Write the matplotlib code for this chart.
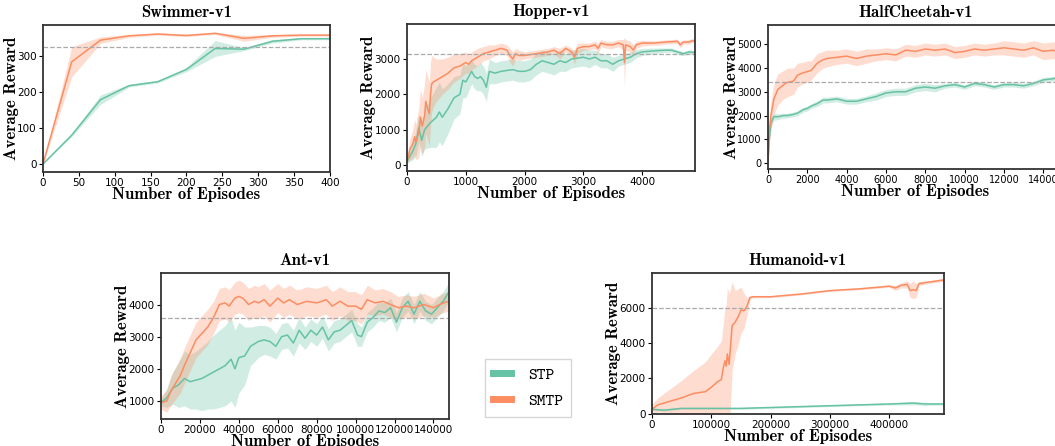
import matplotlib.pyplot as plt
import numpy as np

GREEN = "#66c2a5"
ORANGE = "#fc8d62"

# ---- Swimmer-v1
sw_x = [0, 40, 80, 120, 160, 200, 240, 280, 320, 360, 400]
sw_smtp = [0, 283, 343, 355, 360, 356, 362, 348, 355, 357, 357]
sw_smtp_sd = [0, 42, 9, 4, 3, 3, 3, 8, 4, 3, 3]
sw_stp = [0, 80, 178, 217, 228, 262, 320, 318, 340, 347, 347]
sw_stp_sd = [0, 4, 13, 4, 3, 6, 22, 4, 5, 3, 3]

# ---- Hopper-v1
ho_smtp_x = [0, 50, 100, 130, 150, 200, 230, 260, 300, 320, 350, 380, 400, 420, 450, 500,
             600, 700, 800, 900, 1000, 1050, 1100, 1200, 1300, 1400, 1500, 1600, 1700,
             1750, 1800, 1850, 1900, 2000, 2200, 2400, 2500, 2600, 2700, 2800, 2850, 2900,
             3000, 3100, 3200, 3250, 3300, 3400, 3500, 3600, 3680, 3700, 3720, 3800, 3850,
             3900, 4000, 4200, 4400, 4600, 4650, 4700, 4800, 4850, 4900]
ho_smtp = [100, 450, 600, 800, 650, 900, 1350, 1100, 1400, 1800, 1600, 1450, 2000, 2300,
           2350, 2400, 2500, 2600, 2750, 2800, 2900, 2850, 2950, 3050, 3150, 3200, 3250,
           3300, 3250, 3100, 3000, 3150, 3100, 3100, 3150, 3200, 3250, 3150, 3300, 3200,
           3050, 3300, 3350, 3350, 3400, 3300, 3450, 3400, 3400, 3450, 3400, 2900, 3400,
           3350, 3250, 3400, 3450, 3450, 3480, 3500, 3400, 3480, 3480, 3520, 3500]
ho_smtp_sd = [50, 300, 400, 500, 500, 700, 800, 800, 900, 900, 900, 900, 900, 800, 700, 600,
              500, 450, 400, 350, 300, 250, 250, 250, 200, 200, 150, 150, 150, 200, 200,
              150, 150, 100, 100, 100, 100, 150, 100, 100, 200, 150, 100, 100, 100, 150,
              100, 100, 100, 100, 150, 700, 150, 150, 150, 100, 80, 60, 60, 60, 80, 60, 60,
              60, 60]
ho_stp_x = [0, 100, 150, 200, 250, 300, 400, 500, 550, 600, 700, 800, 900, 950, 1000, 1050,
            1100, 1150, 1200, 1250, 1300, 1350, 1400, 1500, 1600, 1800, 1900, 2000, 2100,
            2200, 2300, 2400, 2500, 2600, 2700, 2800, 3000, 3100, 3200, 3300, 3400, 3500,
            3600, 3700, 3800, 3900, 4000, 4200, 4400, 4500, 4600, 4700, 4800, 4900]
ho_stp = [100, 400, 600, 1050, 700, 1000, 1200, 1350, 1500, 1350, 1600, 1900, 2000, 2400,
          2350, 2500, 2650, 2500, 2450, 2500, 2400, 2200, 2650, 2600, 2650, 2700, 2650, 2650,
          2700, 2850, 2950, 2900, 2850, 2950, 2900, 3000, 3050, 3000, 3050, 2950, 2950, 2850,
          2950, 3000, 3050, 3150, 3200, 3230, 3250, 3250, 3200, 3150, 3200, 3180]
ho_stp_sd = [50, 250, 350, 400, 450, 550, 700, 850, 850, 800, 700, 600, 550, 500, 450, 400,
             350, 350, 350, 400, 400, 400, 350, 300, 300, 300, 300, 300, 300, 300, 300, 300,
             300, 300, 250, 250, 250, 250, 200, 200, 200, 200, 150, 150, 150, 120, 100, 80,
             60, 60, 60, 60, 60, 60]

# ---- HalfCheetah-v1
hc_x = [0, 50, 150, 300, 500, 800, 1000, 1300, 1500, 1800, 2000, 2200, 2500, 2800, 3000,
        3500, 4000, 4500, 5000, 5500, 6000, 6500, 7000, 7500, 8000, 8500, 9000, 9500, 10000,
        10500, 11000, 11500, 12000, 12500, 13000, 13500, 14000, 14500, 15000]
hc_smtp = [0, 1200, 2000, 2700, 3100, 3300, 3400, 3450, 3700, 3800, 3850, 3900, 4200, 4350,
           4400, 4450, 4500, 4400, 4500, 4550, 4600, 4550, 4750, 4700, 4800, 4750, 4800,
           4650, 4700, 4800, 4750, 4800, 4850, 4800, 4750, 4850, 4700, 4750, 4600]
hc_smtp_sd = [0, 500, 600, 650, 650, 600, 600, 550, 500, 450, 450, 400, 400, 350, 350, 300,
              300, 300, 300, 250, 250, 250, 250, 250, 250, 250, 250, 250, 250, 250, 250, 250,
              300, 300, 300, 300, 350, 350, 350]
hc_stp = [0, 900, 1700, 1950, 1950, 2000, 2000, 2050, 2100, 2250, 2300, 2400, 2500, 2650,
          2650, 2700, 2600, 2600, 2700, 2800, 2950, 3000, 3000, 3150, 3200, 3150, 3250,
          3300, 3200, 3350, 3300, 3200, 3300, 3300, 3250, 3350, 3500, 3550, 3650]
hc_stp_sd = [0, 200, 200, 150, 120, 100, 100, 100, 100, 100, 100, 100, 120, 120, 120, 120,
             120, 120, 120, 150, 150, 150, 150, 150, 150, 150, 100, 100, 100, 100, 100, 100,
             100, 100, 100, 100, 100, 100, 100]

# ---- Ant-v1
ant_x = [0, 3000, 5000, 8000, 10000, 12000, 15000, 18000, 21000, 24000, 27000, 30000,
         33000, 35000, 38000, 40000, 42000, 45000, 48000, 50000, 53000, 56000, 60000, 63000,
         66000, 70000, 75000, 80000, 85000, 88000, 92000, 96000, 100000, 103000, 106000,
         110000, 114000, 118000, 122000, 126000, 130000, 135000, 140000, 145000, 148000]
ant_smtp = [950, 1000, 1300, 1600, 1800, 2100, 2500, 2900, 3100, 3300, 3600, 4000, 4050,
            3950, 4200, 4250, 4200, 4000, 4100, 4050, 4150, 3950, 4200, 4050, 4150, 4000,
            4100, 4050, 4150, 3950, 4100, 3950, 3950, 3850, 4150, 4050, 4100, 4000, 3900,
            3950, 3900, 4000, 3900, 4050, 4100]
ant_smtp_sd = [200, 350, 450, 500, 550, 550, 550, 550, 550, 550, 500, 500, 500, 500, 500,
               500, 500, 500, 500, 500, 500, 500, 450, 450, 450, 450, 450, 450, 450, 450,
               450, 450, 450, 450, 450, 400, 400, 400, 350, 350, 350, 350, 300, 300, 300]
ant_stp_x = [0, 3000, 6000, 9000, 12000, 15000, 18000, 21000, 24000, 27000, 30000, 33000,
             36000, 38000, 40000, 43000, 46000, 50000, 53000, 56000, 59000, 62000, 65000,
             68000, 71000, 74000, 77000, 80000, 83000, 86000, 89000, 92000, 95000, 98000,
             101000, 103000, 106000, 109000, 112000, 115000, 118000, 121000, 124000, 127000,
             130000, 133000, 136000, 139000, 142000, 145000, 148000]
ant_stp = [950, 1100, 1400, 1500, 1700, 1600, 1650, 1700, 1800, 1900, 2000, 2100, 2300,
           2000, 2350, 2400, 2700, 2850, 2900, 2850, 2700, 3000, 3050, 2800, 3200, 2950,
           3200, 3050, 3300, 2900, 3150, 3200, 3350, 3500, 3050, 3000, 3450, 3600, 3800,
           3750, 3900, 3450, 3900, 4100, 3700, 4100, 3800, 3700, 3900, 4100, 4400]
ant_stp_sd = [100, 300, 500, 700, 850, 850, 900, 1000, 1050, 1150, 1200, 1250, 1300, 1200,
              1100, 900, 600, 500, 450, 450, 400, 400, 400, 400, 400, 350, 350, 350, 350,
              350, 350, 350, 350, 350, 350, 300, 300, 300, 300, 300, 300, 300, 300, 300,
              300, 300, 300, 300, 300, 300, 300]

# ---- Humanoid-v1
hu_smtp_x = [0, 10000, 30000, 50000, 70000, 80000, 90000, 100000, 110000, 117000, 120000,
             123000, 125000, 127000, 130000, 135000, 140000, 145000, 150000, 155000, 160000,
             165000, 170000, 190000, 200000, 250000, 300000, 350000, 400000, 410000, 420000,
             430000, 435000, 440000, 445000, 450000, 470000, 490000, 495000]
hu_smtp = [250, 500, 700, 900, 1150, 1200, 1250, 1500, 1800, 1950, 2600, 3000, 2700, 3400,
           2800, 5000, 5200, 5500, 5900, 5850, 6100, 6600, 6650, 6650, 6650, 6800, 7000,
           7100, 7250, 7150, 7300, 7350, 7000, 7050, 7000, 7400, 7500, 7600, 7400]
hu_smtp_sd = [300, 400, 700, 1000, 1300, 1500, 1700, 1900, 2000, 2200, 2500, 3000, 3500,
              3800, 4000, 2500, 1800, 1600, 1300, 1000, 500, 100, 60, 50, 50, 50, 50, 50,
              60, 150, 150, 200, 400, 500, 400, 100, 80, 80, 150]
hu_stp_x = [0, 20000, 50000, 100000, 150000, 200000, 250000, 300000, 350000, 400000,
            440000, 460000, 490000, 495000]
hu_stp = [250, 200, 300, 300, 300, 350, 400, 450, 500, 550, 600, 550, 550, 550]
hu_stp_sd = [60, 50, 50, 50, 50, 50, 50, 50, 50, 60, 100, 80, 60, 60]

W, H = 1055, 446
fig = plt.figure(figsize=(W / 100, H / 100), dpi=100)


def make_ax(l, r, t, b):
    return fig.add_axes([l / W, 1 - b / H, (r - l) / W, (b - t) / H])


def draw(ax, title, x1, y1, s1, x2, y2, s2, dash, xlim, ylim, xticks, yticks, tsize=7.5):
    y1, s1, y2, s2 = map(np.array, (y1, s1, y2, s2))
    ax.fill_between(x1, y1 - s1, y1 + s1, color=GREEN, alpha=0.3, lw=0)
    ax.fill_between(x2, y2 - s2, y2 + s2, color=ORANGE, alpha=0.3, lw=0)
    ax.plot(x1, y1, color=GREEN, lw=1.1, label="STP")
    ax.plot(x2, y2, color=ORANGE, lw=1.1, label="SMTP")
    ax.axhline(dash, color="#aaaaaa", ls="--", lw=0.9)
    ax.set_xlim(*xlim)
    ax.set_ylim(*ylim)
    ax.set_xticks(xticks)
    ax.set_yticks(yticks)
    ax.tick_params(labelsize=tsize, length=3, width=0.8, pad=1.5)
    for sp in ax.spines.values():
        sp.set_color("#333333")
        sp.set_linewidth(1.3)
    ax.set_title(title, fontfamily="cmb10", fontsize=12, pad=6)
    ax.set_xlabel("Number of Episodes", fontfamily="cmb10", fontsize=12, labelpad=-1)
    ax.set_ylabel("Average Reward", fontfamily="cmb10", fontsize=12, labelpad=-1)


ax = make_ax(43, 330, 25, 172)
draw(ax, "Swimmer-v1", sw_x, sw_stp, sw_stp_sd, sw_x, sw_smtp, sw_smtp_sd, 325,
     (0, 400), (-22, 385), range(0, 401, 50), range(0, 301, 100))

ax = make_ax(407, 695, 24, 171)
draw(ax, "Hopper-v1", ho_stp_x, ho_stp, ho_stp_sd, ho_smtp_x, ho_smtp, ho_smtp_sd, 3150,
     (0, 4900), (-170, 3990), range(0, 4001, 1000), range(0, 3001, 1000))

ax = make_ax(768, 1063, 25, 169)
draw(ax, "HalfCheetah-v1", hc_x, hc_stp, hc_stp_sd, hc_x, hc_smtp, hc_smtp_sd, 3430,
     (0, 15000), (-250, 5810), range(0, 14001, 2000), range(0, 5001, 1000), tsize=7)

ax = make_ax(161, 449, 273, 419)
draw(ax, "Ant-v1", ant_stp_x, ant_stp, ant_stp_sd, ant_x, ant_smtp, ant_smtp_sd, 3585,
     (0, 148000), (440, 4980), range(0, 140001, 20000), range(1000, 4001, 1000))

ax = make_ax(652, 944, 273, 414)
draw(ax, "Humanoid-v1", hu_stp_x, hu_stp, hu_stp_sd, hu_smtp_x, hu_smtp, hu_smtp_sd, 6000,
     (0, 492000), (-20, 8000), range(0, 400001, 100000), range(0, 6001, 2000))

handles, labels = ax.get_legend_handles_labels()
leg = fig.legend(handles, labels, loc="center", bbox_to_anchor=(528 / W, 1 - 388 / H),
                 prop={"family": "cmtt10", "size": 12}, handlelength=1.1,
                 handletextpad=1.0, borderpad=0.5, labelspacing=0.6, fancybox=False)
leg.get_frame().set_edgecolor("#cccccc")
for h in leg.legend_handles:
    h.set_linewidth(5)

fig.savefig("out.png", dpi=100)
